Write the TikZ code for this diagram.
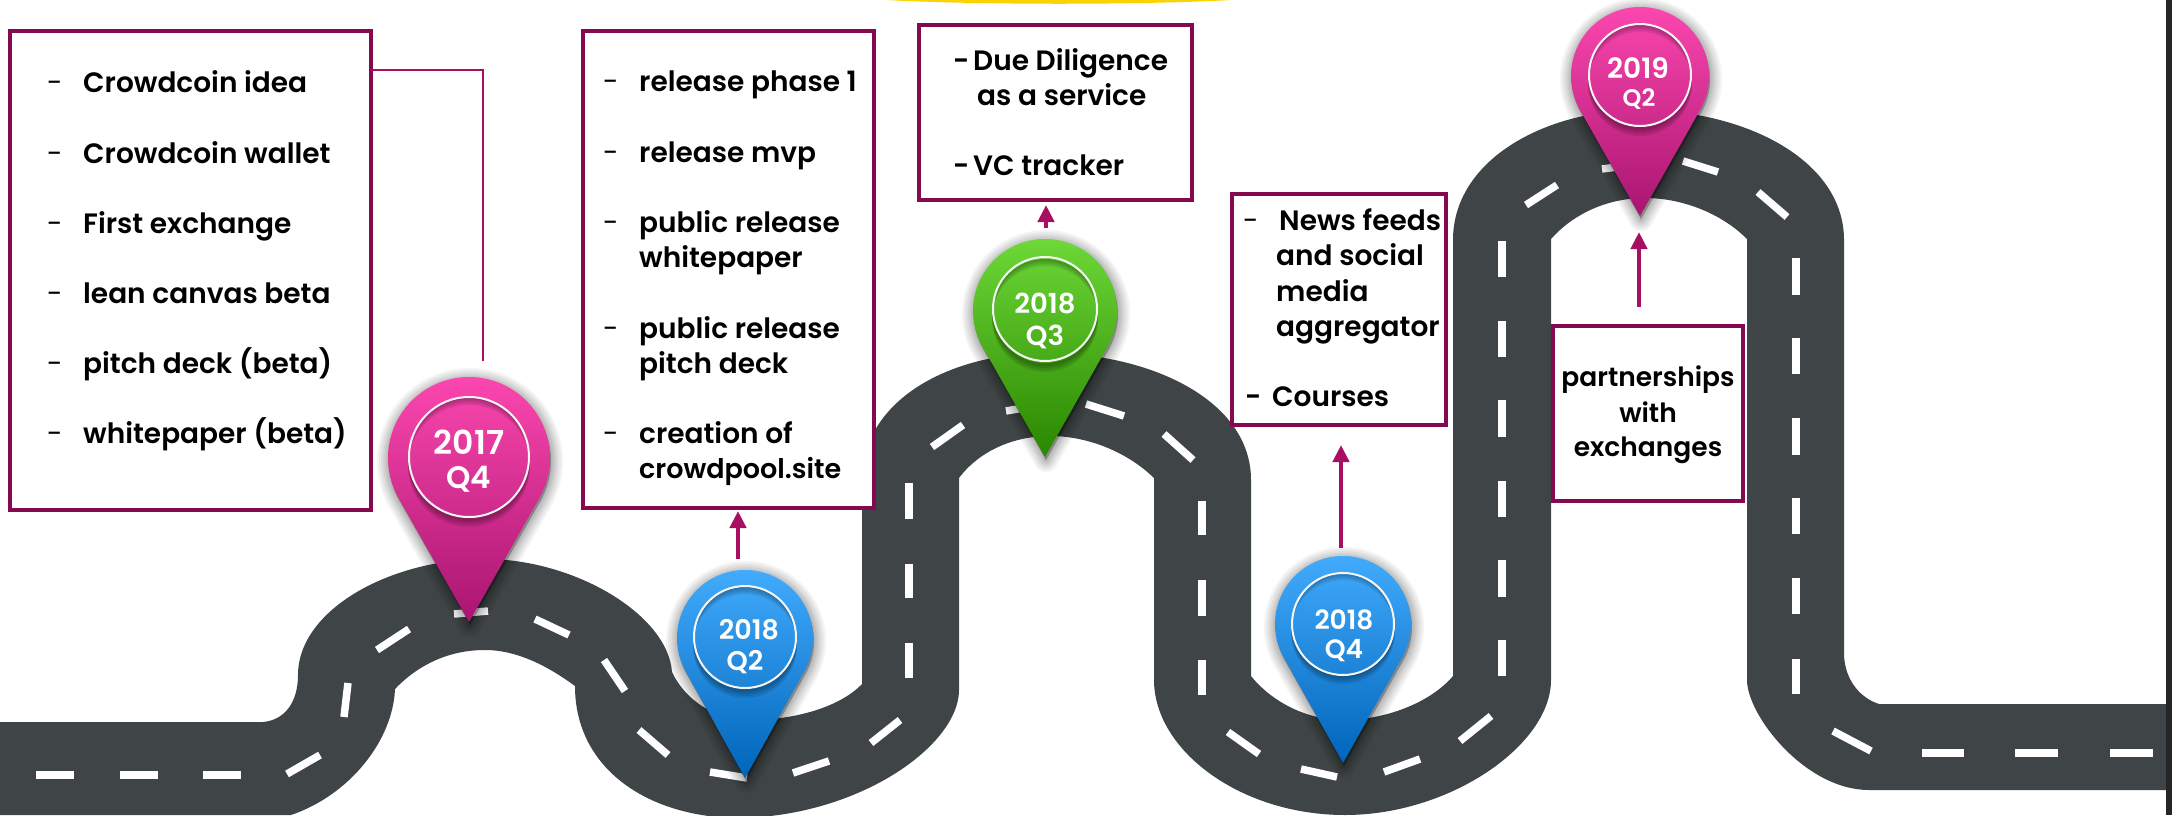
\documentclass[tikz,border=0pt]{standalone}
\usepackage{fontspec}
\setmainfont{Poppins}[BoldFont=Poppins SemiBold]
\usetikzlibrary{arrows.meta,calc}
\definecolor{boxc}{HTML}{85094F}
\definecolor{arrc}{HTML}{A60F62}
\definecolor{roadc}{HTML}{3F4446}
\definecolor{pinkA}{HTML}{FF49B2}
\definecolor{pinkB}{HTML}{D9319A}
\definecolor{pinkC}{HTML}{A91570}
\definecolor{blueA}{HTML}{45AEFF}
\definecolor{blueB}{HTML}{2488DC}
\definecolor{blueC}{HTML}{0065BA}
\definecolor{greenA}{HTML}{70DC3A}
\definecolor{greenB}{HTML}{4DB625}
\definecolor{greenC}{HTML}{2A8600}
\tikzset{
  x=1pt,y=-1pt,
  boxn/.style={draw=boxc,line width=4pt,rectangle,inner sep=0pt,fill=white},
  itm/.style={anchor=base west,inner sep=0pt,font=\fontsize{28}{28}\selectfont\bfseries,text=black},
  ctr/.style={itm,anchor=base,font=\fontsize{26.5}{26.5}\selectfont\bfseries},
  dsh/.style={anchor=base west,inner sep=0pt,font=\fontsize{28}{28}\selectfont,text=black},
  dshb/.style={dsh,font=\fontsize{28}{28}\selectfont\bfseries},
  arr/.style={draw=arrc,fill=arrc,line width=4.5pt,-{Triangle[length=17pt,width=16pt]},shorten >=1pt},
  thinl/.style={draw=arrc,line width=2pt},
  dashw/.style={white,line width=7.5pt},
  ring/.style={circle,draw=white!92!gray,line width=2pt,inner sep=0pt},
  pintxt/.style={inner sep=0pt,anchor=center,text=white,font=\fontsize{#1}{#1}\selectfont\bfseries},
}
% #1 unused name #2 cx #3 cy #4 R #5 tip y #6 inner r #7 top #8 mid #9 bottom
\newcommand{\mappin}[9]{%
  \pgfmathsetmacro{\pa}{acos(#4/(#5-#3))}%
  \pgfmathsetmacro{\ps}{90+\pa}\pgfmathsetmacro{\pe}{450-\pa}%
  \foreach \w in {24,20,16,12,9,6,3}{%
    \draw[black,opacity=.045,line width=\w pt,line join=round,fill=black]
      (#2+1,#5+3) -- ($(#2+1,#3+3)+(\ps:#4)$) arc[start angle=\ps,end angle=\pe,radius=#4] -- cycle;
  }%
  \shade[top color=#7,middle color=#8,bottom color=#9]
      (#2,#5) -- ($(#2,#3)+(\ps:#4)$) arc[start angle=\ps,end angle=\pe,radius=#4] -- cycle;
  \foreach \w in {2,4,6,8}{\fill[black,opacity=.09,even odd rule] (#2,#3+\w) circle[radius=#6+1] (#2,#3) circle[radius=#6];}%
}
\begin{document}
\begin{tikzpicture}
\useasboundingbox (0,0) rectangle (2172,815);
\fill[white] (0,0) rectangle (2172,815);
% yellow strip
\fill[yellow!70!orange] (886,0) .. controls (980,5) and (1140,5) .. (1231,0) -- cycle;
% road
\fill[roadc]
  (0,722) -- (263,722)
  .. controls (285,720) and (298,702) .. (298,675)
  .. controls (298,610) and (390,559) .. (485,559)
  .. controls (575,559) and (668,615) .. (672,672)
  .. controls (685,700) and (715,720) .. (750,720)
  .. controls (795,720) and (840,707) .. (862,684)
  -- (862,480)
  .. controls (862,400) and (950,353) .. (1046,353)
  .. controls (1150,353) and (1251,400) .. (1251,480)
  -- (1251,676)
  .. controls (1270,700) and (1305,720) .. (1343,720)
  .. controls (1385,720) and (1430,703) .. (1453,676)
  -- (1453,240)
  .. controls (1453,160) and (1545,110) .. (1640,110)
  .. controls (1745,110) and (1844,160) .. (1844,240)
  -- (1844,655)
  .. controls (1845,680) and (1860,698) .. (1879,704)
  -- (2168,704) -- (2168,790) -- (1869,790)
  .. controls (1805,790) and (1747,715) .. (1747,680)
  -- (1747,239)
  .. controls (1720,212) and (1680,198) .. (1645,198)
  .. controls (1610,198) and (1575,212) .. (1551,239)
  -- (1551,680)
  .. controls (1551,745) and (1450,815) .. (1345,815)
  .. controls (1240,815) and (1154,750) .. (1154,680)
  -- (1154,478)
  .. controls (1125,450) and (1085,436) .. (1050,436)
  .. controls (1015,436) and (980,450) .. (959,478)
  -- (959,690)
  .. controls (959,745) and (860,816) .. (740,818)
  .. controls (650,818) and (575,770) .. (575,686)
  .. controls (545,664) and (515,650) .. (485,650)
  .. controls (445,650) and (415,668) .. (395,689)
  .. controls (393,740) and (350,795) .. (291,815)
  -- (0,815) -- cycle;
% lane markings
\foreach \a/\b/\c/\d in {
  36/775/74/775,120/775/158/775,203/775/241/775,287/774/320/755,344/717/348/683,377/650/409/629,
  454/614/488/611,535/619/569/635,604/660/625/691,639/730/668/755,710/772/747/778,793/773/829/761,
  871/743/900/720,909/678/909/643,909/598/909/564,909/519/909/483,932/447/963/425,1006/411/1040/405,
  1086/404/1124/416,1164/434/1193/460,1202/501/1202/535,1202/580/1202/616,1202/660/1202/695,
  1228/732/1259/754,1301/769/1337/777,1384/772/1420/759,1460/741/1491/716,1502/676/1502/640,
  1502/597/1502/560,1502/517/1502/481,1502/437/1502/400,1502/357/1502/321,1502/277/1502/241,
  1526/205/1557/185,1602/169/1640/164,1683/161/1718/172,1758/192/1787/217,1796/258/1796/295,
  1796/338/1796/374,1796/418/1796/455,1796/498/1796/534,1796/578/1796/614,1796/659/1796/694,
  1833/731/1871/751,1922/753/1964/753,2015/753/2058/753,2110/753/2153/753}
  {\draw[dashw] (\a,\b) -- (\c,\d);}
% right edge
\fill[black!85] (2166,0) rectangle (2172,815);
% boxes
\node[boxn,minimum width=361pt,minimum height=479pt] (b1) at (190.5,270.5) {};
\node[boxn,minimum width=291pt,minimum height=477pt] (b2) at (728.5,269.5) {};
\node[boxn,minimum width=273pt,minimum height=175pt] (b3) at (1055.5,112.5) {};
\node[boxn,minimum width=214pt,minimum height=231pt] (b4) at (1339,309.5) {};
\node[boxn,minimum width=190pt,minimum height=175pt] (b5) at (1648,413.5) {};
% box 1 text
\node[dsh] (d1a) at (47,92) {-}; \node[itm] (t1a) at (83,92) {Crowdcoin idea};
\node[dsh] (d1b) at (47,163) {-}; \node[itm] (t1b) at (83,163) {Crowdcoin wallet};
\node[dsh] (d1c) at (47,233) {-}; \node[itm] (t1c) at (83,233) {First exchange};
\node[dsh] (d1d) at (47,303) {-}; \node[itm] (t1d) at (83,303) {lean canvas beta};
\node[dsh] (d1e) at (47,373) {-}; \node[itm] (t1e) at (83,373) {pitch deck (beta)};
\node[dsh] (d1f) at (47,443) {-}; \node[itm] (t1f) at (83,443) {whitepaper (beta)};
% box 2 text
\node[dsh] (d2a) at (603,91) {-}; \node[itm] (t2a) at (639,91) {release phase 1};
\node[dsh] (d2b) at (603,162) {-}; \node[itm] (t2b) at (639,162) {release mvp};
\node[dsh] (d2c) at (603,232) {-}; \node[itm] (t2c) at (639,232) {public release};
\node[itm] (t2c2) at (639,267) {whitepaper};
\node[dsh] (d2d) at (603,338) {-}; \node[itm] (t2d) at (639,338) {public release};
\node[itm] (t2d2) at (639,373) {pitch deck};
\node[dsh] (d2e) at (603,443) {-}; \node[itm] (t2e) at (639,443) {creation of};
\node[itm,font=\fontsize{27}{27}\selectfont\bfseries] (t2e2) at (639,478) {crowdpool.site};
% box 3 text
\node[dshb] (d3a) at (953,70) {-}; \node[itm] (t3a) at (973,70) {Due Diligence};
\node[itm] (t3a2) at (977,105.5) {as a service};
\node[dshb] (d3b) at (953,175) {-}; \node[itm] (t3b) at (973,175) {VC tracker};
% box 4 text
\node[dsh] (d4a) at (1243,230) {-}; \node[itm] (t4a) at (1279,230) {News feeds};
\node[itm] (t4a2) at (1276,265) {and social};
\node[itm] (t4a3) at (1276,301) {media};
\node[itm] (t4a4) at (1276,336) {aggregator};
\node[dshb] (d4b) at (1245,406) {-}; \node[itm] (t4b) at (1272,406) {Courses};
% box 5 text
\node[ctr] (t5a) at (1648,386) {partnerships};
\node[ctr] (t5b) at (1648,422) {with};
\node[ctr] (t5c) at (1648,456) {exchanges};
% pins
\mappin{p1}{469}{458}{81}{622}{60}{pinkA}{pinkB}{pinkC}
\mappin{p2}{745}{638}{68}{778}{51}{blueA}{blueB}{blueC}
\mappin{p3}{1045}{311}{72}{457}{52}{greenA}{greenB}{greenC}
\mappin{p4}{1343}{624}{68}{763}{51}{blueA}{blueB}{blueC}
\mappin{p5}{1640}{76}{69}{216}{51}{pinkA}{pinkB}{pinkC}
\node[ring,minimum size=120pt] (p1) at (469,457) {};
\node[ring,minimum size=102pt] (p2) at (745,637) {};
\node[ring,minimum size=104pt] (p3) at (1045,309) {};
\node[ring,minimum size=102pt] (p4) at (1343,624) {};
\node[ring,minimum size=102pt] (p5) at (1640,75) {};
\node[pintxt=33] (p1y) at (469,442) {2017};
\node[pintxt=31] (p1q) at (469,479) {Q4};
\node[pintxt=27] (p2y) at (749,630) {2018};
\node[pintxt=27] (p2q) at (745,662) {Q2};
\node[pintxt=27.5] (p3y) at (1045,303) {2018};
\node[pintxt=27.5] (p3q) at (1045,337) {Q3};
\node[pintxt=26.5] (p4y) at (1344,620) {2018};
\node[pintxt=26.5] (p4q) at (1344,651) {Q4};
\node[pintxt=28] (p5y) at (1638,68) {2019};
\node[pintxt=24] (p5q) at (1639,99) {Q2};
% connectors
\coordinate (c1s) at (371,70);
\coordinate (c1e) at (483,361);
\draw[thinl] (c1s) -| (c1e);
\coordinate (a2s) at (738,559);
\draw[arr] (a2s) -- (a2s |- b2.south);
\coordinate (a3s) at (1046,228);
\draw[arr] (a3s) -- ([yshift=-2pt]a3s |- b3.south);
\coordinate (a4s) at (1341,548);
\draw[arr] (a4s) -- ([yshift=-17pt]a4s |- b4.south);
\coordinate (a5e) at (1639,231);
\draw[arr] (a5e |- b5.north) ++(0,-17) coordinate (a5s) -- (a5e);
\end{tikzpicture}
\end{document}
